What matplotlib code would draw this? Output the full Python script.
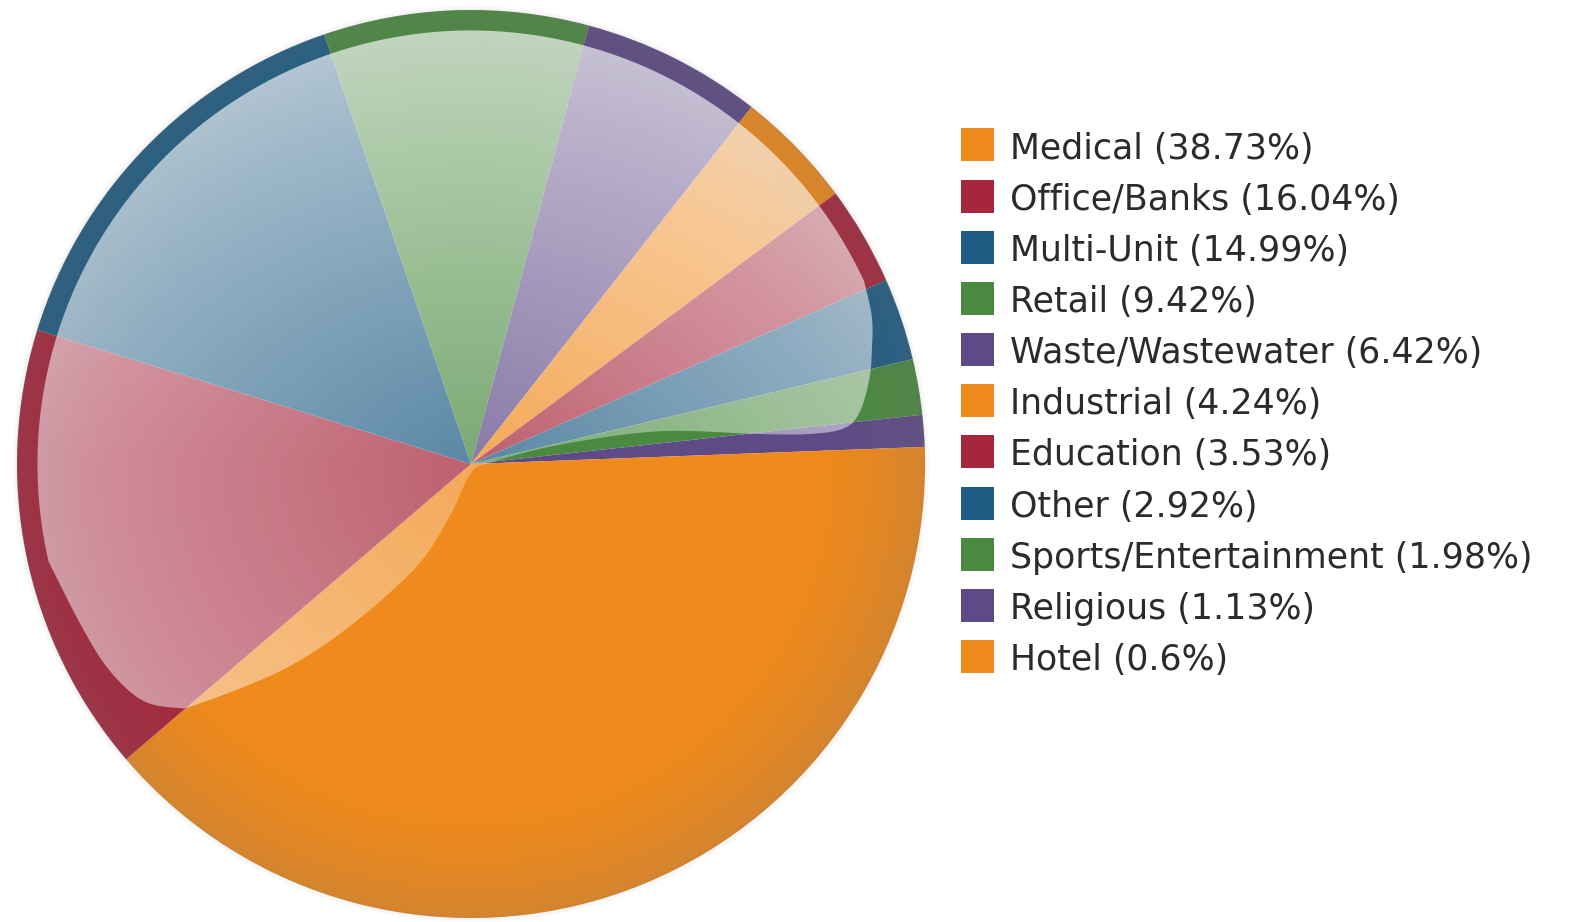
import matplotlib
matplotlib.use('Agg')
import matplotlib.pyplot as plt
import numpy as np
from matplotlib.path import Path
from matplotlib.patches import PathPatch, Circle, Rectangle

categories = ['Medical', 'Office/Banks', 'Multi-Unit', 'Retail', 'Waste/Wastewater',
              'Industrial', 'Education', 'Other', 'Sports/Entertainment', 'Religious', 'Hotel']
shares = [38.73, 16.04, 14.99, 9.42, 6.42, 4.24, 3.53, 2.92, 1.98, 1.13, 0.6]
palette = ['#F08A1C', '#A6263C', '#1F5C84', '#4A8A40', '#5E4A87']
colors = [palette[i % len(palette)] for i in range(len(shares))]
labels = [f'{c} ({v:g}%)' for c, v in zip(categories, shares)]

W, H = 1591, 922
fig = plt.figure(figsize=(W / 100, H / 100), dpi=100)
fig.patch.set_facecolor('white')

# pie placed in pixel terms: centre and radius
cx, cy, R = 471, 464, 454
lim = 1.03
size = 2 * lim * R
ax = fig.add_axes([(cx - size / 2) / W, (H - cy - size / 2) / H, size / W, size / H])

ax.pie(shares, colors=colors, startangle=0, counterclock=False, radius=1,
       wedgeprops=dict(linewidth=0))
ax.set_xlim(-lim, lim)
ax.set_ylim(-lim, lim)
ax.set_aspect('equal')
ax.axis('off')

# grid for shading overlays
n = 600
u, v = np.meshgrid(np.linspace(-1, 1, n), np.linspace(-1, 1, n))
r = np.hypot(u, v)

# darker rim
rim = np.zeros((n, n, 4))
rim[..., :3] = 0.45
rim[..., 3] = 0.22 * np.clip((r - 0.72) / 0.28, 0, 1) ** 1.6
im_rim = ax.imshow(rim, extent=[-1, 1, -1, 1], origin='lower', zorder=3, interpolation='bilinear')
im_rim.set_clip_path(Circle((0, 0), 1, transform=ax.transData))


def catmull(points, per=12):
    p = np.asarray(points, float)
    p = np.vstack([p[0], p, p[-1]])
    out = []
    t = np.linspace(0, 1, per, endpoint=False)[:, None]
    for i in range(1, len(p) - 2):
        p0, p1, p2, p3 = p[i - 1], p[i], p[i + 1], p[i + 2]
        out.append(0.5 * (2 * p1 + (-p0 + p2) * t + (2 * p0 - 5 * p1 + 4 * p2 - p3) * t ** 2
                          + (-p0 + 3 * p1 - 3 * p2 + p3) * t ** 3))
    out.append(p[-2][None, :])
    return np.vstack(out)


# glossy highlight shape
r_in = 0.955
ang = np.radians(np.linspace(25, 193, 200))
arc = np.column_stack([r_in * np.cos(ang), r_in * np.sin(ang)])
edge = [arc[-1], (-0.857, -0.359), (-0.797, -0.454), (-0.725, -0.520), (-0.650, -0.537),
        (-0.599, -0.528), (-0.416, -0.454), (-0.269, -0.359), (-0.121, -0.227),
        (-0.048, -0.117), (0.0, -0.02), (0.046, 0.004), (0.194, 0.042), (0.414, 0.072),
        (0.634, 0.066), (0.744, 0.066), (0.82, 0.078), (0.855, 0.112), (0.877, 0.185),
        (0.883, 0.251), (0.883, 0.324), arc[0]]
pts = np.vstack([arc, catmull(edge)])
gloss_path = Path(pts, closed=False)

gloss = np.ones((n, n, 4))
gloss[..., 3] = np.clip(0.27 + 0.25 * r + 0.15 * np.clip(v, 0, 1), 0, 0.68)
im_gloss = ax.imshow(gloss, extent=[-1, 1, -1, 1], origin='lower', zorder=4, interpolation='bilinear')
im_gloss.set_clip_path(PathPatch(gloss_path, transform=ax.transData))

# soft edge
for k, a in enumerate([0.10, 0.06, 0.03]):
    ax.add_patch(Circle((0, 0), 1 + 0.004 * k, fill=False, edgecolor='#808080',
                        linewidth=1.5, alpha=a, zorder=5))

# legend
x_box, box_w, box_h = 961, 33, 33
y0, step = 145, 51.15
for i, (lab, col) in enumerate(zip(labels, colors)):
    yc = y0 + i * step
    fig.patches.append(Rectangle((x_box / W, (H - yc - box_h / 2) / H), box_w / W, box_h / H,
                                 transform=fig.transFigure, facecolor=col, edgecolor='none'))
    fig.text(1010 / W, (H - yc) / H, lab, ha='left', va='center_baseline', fontsize=25,
             color='#2b2b2b', family='DejaVu Sans')

fig.savefig('out.png', dpi=100)
